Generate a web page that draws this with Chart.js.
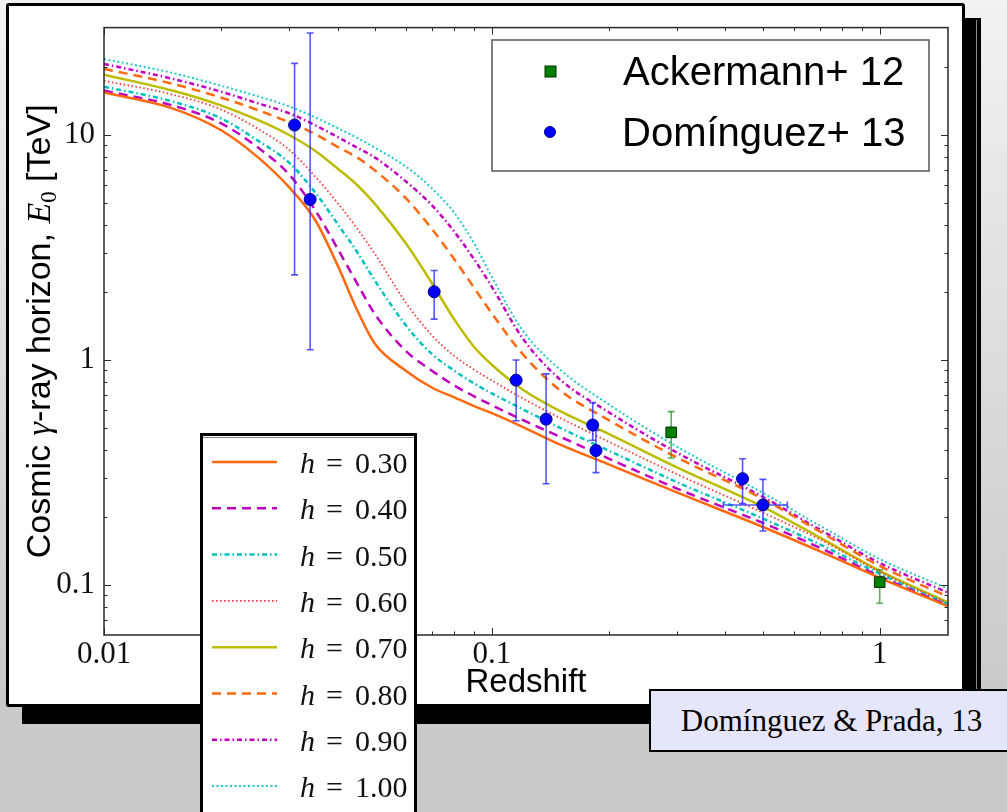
<!DOCTYPE html>
<html>
<head>
<meta charset="utf-8">
<script src="https://cdn.jsdelivr.net/npm/chart.js@4.4.0/dist/chart.umd.min.js"></script>
<style>
  html, body { margin: 0; padding: 0; width: 1007px; height: 812px; overflow: hidden;
    background: linear-gradient(to bottom, #f2f2f2 0%, #dedede 40%, #cacaca 85%); }
  #shadow { position: absolute; left: 22px; top: 18px; width: 959px; height: 706px; background: #000; }
  #shadowLine { position: absolute; left: 976px; top: 20px; width: 1px; height: 702px; background: #8a8a8a; }
  #panel { position: absolute; left: 6px; top: 3px; width: 953px; height: 698px; background: #fff;
    border: 3px solid #000; border-radius: 3px; }
  #wrap { position: absolute; left: 0; top: 0; width: 1007px; height: 812px; z-index: 2; }
  #cite { position: absolute; left: 649px; top: 689px; width: 361px; height: 59px; z-index: 3;
    background: #e6e6fa; border: 2.5px solid #000; display: flex; align-items: center; justify-content: center;
    font: 31px "Liberation Serif", "Times New Roman", serif; color: #000; }
</style>
</head>
<body>
<div id="shadow"></div>
<div id="shadowLine"></div>
<div id="panel"></div>
<div id="wrap"><canvas id="chart"></canvas></div>
<div id="cite">Domínguez &amp; Prada, 13</div>
<script>
// redshift grid the model curves were read at
const redshift = [0.01, 0.015, 0.02, 0.025, 0.03, 0.035, 0.04, 0.045, 0.05, 0.06, 0.07, 0.08, 0.09,
                  0.1, 0.12, 0.15, 0.2, 0.3, 0.5, 0.7, 1.0, 1.5];

// cosmic gamma-ray horizon E0 [TeV] per h
const e_h030 = [15.43, 13.13, 10.52, 7.93, 5.86, 4.20, 2.64, 1.66, 1.178, 0.897, 0.755, 0.683, 0.624, 0.581, 0.505, 0.4207, 0.344, 0.258, 0.1812, 0.1415, 0.1077, 0.0804];
const e_h040 = [15.75, 13.54, 11.29, 8.77, 6.68, 4.65, 3.13, 2.18, 1.594, 1.097, 0.897, 0.771, 0.690, 0.630, 0.5415, 0.456, 0.365, 0.2685, 0.1887, 0.1466, 0.1094, 0.0812];
const e_h050 = [16.40, 14.09, 11.87, 9.41, 7.54, 5.57, 4.03, 3.01, 2.246, 1.427, 1.065, 0.897, 0.786, 0.711, 0.605, 0.4995, 0.396, 0.2868, 0.1974, 0.1518, 0.1122, 0.0820];
const e_h060 = [17.42, 15.12, 13.0, 10.62, 8.60, 6.55, 4.99, 3.83, 2.95, 1.80, 1.289, 1.043, 0.906, 0.811, 0.676, 0.5526, 0.4337, 0.311, 0.2098, 0.1597, 0.1145, 0.0829];
const e_h070 = [18.51, 15.75, 13.54, 11.63, 10.0, 8.51, 7.10, 5.98, 4.93, 3.30, 2.20, 1.515, 1.143, 0.953, 0.740, 0.593, 0.470, 0.3336, 0.2228, 0.163, 0.1156, 0.0837];
const e_h080 = [19.67, 16.90, 14.67, 12.87, 11.40, 10.10, 8.86, 7.93, 6.95, 5.24, 3.83, 2.805, 2.094, 1.61, 1.065, 0.733, 0.5415, 0.369, 0.2415, 0.173, 0.1216, 0.0889];
const e_h090 = [20.68, 17.78, 15.59, 13.81, 12.49, 11.06, 9.80, 8.77, 7.93, 6.22, 4.88, 3.72, 2.805, 2.115, 1.251, 0.819, 0.587, 0.388, 0.2464, 0.1767, 0.1253, 0.0926];
const e_h100 = [21.75, 18.88, 16.56, 14.83, 13.40, 11.99, 10.73, 9.70, 8.77, 7.24, 5.80, 4.51, 3.30, 2.339, 1.356, 0.906, 0.636, 0.4123, 0.2566, 0.1839, 0.1305, 0.0964];

const hLabels = ['0.30', '0.40', '0.50', '0.60', '0.70', '0.80', '0.90', '1.00'];

// Ackermann+ 12
const ackZ  = [0.29, 1.0];
const ackE  = [0.477, 0.103];
const ackLo = [0.367, 0.083];
const ackHi = [0.59, 0.117];

// Domínguez+ 13
const domZ   = [0.031, 0.034, 0.071, 0.1155, 0.138, 0.182, 0.1855, 0.443, 0.5];
const domE   = [11.07, 5.17, 2.01, 0.814, 0.546, 0.514, 0.396, 0.297, 0.227];
const domLo  = [2.39, 1.11, 1.52, 0.537, 0.282, 0.44, 0.316, 0.23, 0.174];
const domHi  = [20.8, 28.4, 2.50, 1.0, 0.868, 0.647, 0.487, 0.364, 0.295];
const domZLo = [null, null, null, null, null, null, null, null, 0.395];
const domZHi = [null, null, null, null, null, null, null, null, 0.578];

const xMajor = [0.01, 0.1, 1];
const xMinor = [0.02, 0.03, 0.04, 0.05, 0.06, 0.07, 0.08, 0.09, 0.2, 0.3, 0.4, 0.5, 0.6, 0.7, 0.8, 0.9];
const yMajor = [0.1, 1, 10];
const yMinor = [0.07, 0.08, 0.09, 0.2, 0.3, 0.4, 0.5, 0.6, 0.7, 0.8, 0.9, 2, 3, 4, 5, 6, 7, 8, 9, 20];

const curves = [e_h030, e_h040, e_h050, e_h060, e_h070, e_h080, e_h090, e_h100];
const styles = [
  { color: '#ff6a10', dash: [],             width: 2.5 },
  { color: '#c000c0', dash: [9, 6],         width: 2.5 },
  { color: '#00c0c0', dash: [5, 3, 1.5, 3], width: 2.5 },
  { color: '#ff3535', dash: [1.5, 2.5],     width: 1.8 },
  { color: '#bcbc00', dash: [],             width: 2.5 },
  { color: '#ff6a10', dash: [9, 6],         width: 2.5 },
  { color: '#c000c0', dash: [5, 3, 1.5, 3], width: 2.5 },
  { color: '#20c8c8', dash: [2, 2.5],       width: 2 }
];

const SERIF = '"Liberation Serif", "Times New Roman", serif';
const SANS = '"Liberation Sans", Arial, sans-serif';

const datasets = curves.map((vals, i) => ({
  label: 'h = ' + hLabels[i],
  data: redshift.map((z, j) => ({ x: z, y: vals[j] })),
  borderColor: styles[i].color,
  borderDash: styles[i].dash,
  borderWidth: styles[i].width,
  pointRadius: 0,
  fill: false,
  cubicInterpolationMode: 'monotone',
  order: 1
}));
datasets.push({
  label: 'Ackermann+ 12',
  data: ackZ.map((z, j) => ({ x: z, y: ackE[j] })),
  showLine: false, pointStyle: 'rect', pointRadius: 7.5,
  backgroundColor: '#008000', borderColor: '#003300', borderWidth: 1, order: 0
});
datasets.push({
  label: 'Domínguez+ 13',
  data: domZ.map((z, j) => ({ x: z, y: domE[j] })),
  showLine: false, pointStyle: 'circle', pointRadius: 6,
  backgroundColor: '#0000ff', borderColor: '#000080', borderWidth: 1, order: 0
});
const DOM = datasets.length - 1;

function seg(ctx, x1, y1, x2, y2) {
  ctx.beginPath(); ctx.moveTo(x1, y1); ctx.lineTo(x2, y2); ctx.stroke();
}

function drawErrorBars(ctx, xs, ys, zs, es, lo, hi, color, zlo, zhi) {
  ctx.save();
  ctx.strokeStyle = color;
  ctx.lineWidth = 1.6;
  zs.forEach((z, i) => {
    const px = xs.getPixelForValue(z);
    const py = ys.getPixelForValue(es[i]);
    const t = ys.getPixelForValue(hi[i]), b = ys.getPixelForValue(lo[i]);
    seg(ctx, px, t, px, b);
    seg(ctx, px - 3.5, t, px + 3.5, t);
    seg(ctx, px - 3.5, b, px + 3.5, b);
    if (zlo && zlo[i] != null) {
      const l = xs.getPixelForValue(zlo[i]), r = xs.getPixelForValue(zhi[i]);
      seg(ctx, l, py, r, py);
      seg(ctx, l, py - 3.5, l, py + 3.5);
      seg(ctx, r, py - 3.5, r, py + 3.5);
    }
  });
  ctx.restore();
}

function drawParts(ctx, parts, x, y) {
  let cx = x;
  parts.forEach(p => {
    ctx.font = p.font;
    ctx.fillText(p.t, cx, y + (p.dy || 0));
    cx += ctx.measureText(p.t).width;
  });
}

function partsWidth(ctx, parts) {
  return parts.reduce((w, p) => { ctx.font = p.font; return w + ctx.measureText(p.t).width; }, 0);
}

const decorPlugin = {
  id: 'decor',
  beforeDatasetDraw(chart, args) {
    if (args.index !== DOM) return;
    const xs = chart.scales.x, ys = chart.scales.y, ctx = chart.ctx;
    const ca = chart.chartArea;
    ctx.save();
    ctx.beginPath();
    ctx.rect(ca.left, ca.top, ca.right - ca.left, ca.bottom - ca.top);
    ctx.clip();
    drawErrorBars(ctx, xs, ys, ackZ, ackE, ackLo, ackHi, 'rgba(40,150,40,0.75)');
    drawErrorBars(ctx, xs, ys, domZ, domE, domLo, domHi, 'rgba(45,45,255,0.8)', domZLo, domZHi);
    ctx.restore();
  },
  afterDraw(chart) {
    const ctx = chart.ctx, ca = chart.chartArea;
    const xs = chart.scales.x, ys = chart.scales.y;
    ctx.save();

    // plot frame with inward ticks on all four sides
    ctx.strokeStyle = '#2a2a2a';
    ctx.lineWidth = 1.5;
    ctx.strokeRect(ca.left, ca.top, ca.right - ca.left, ca.bottom - ca.top);
    ctx.lineWidth = 1;
    const tickX = (vals, len) => vals.forEach(v => {
      const px = Math.round(xs.getPixelForValue(v)) + 0.5;
      seg(ctx, px, ca.bottom, px, ca.bottom - len);
      seg(ctx, px, ca.top, px, ca.top + len);
    });
    const tickY = (vals, len) => vals.forEach(v => {
      const py = Math.round(ys.getPixelForValue(v)) + 0.5;
      seg(ctx, ca.left, py, ca.left + len, py);
      seg(ctx, ca.right, py, ca.right - len, py);
    });
    tickX(xMajor, 7); tickX(xMinor, 3.5);
    tickY(yMajor, 7); tickY(yMinor, 3.5);

    // axis titles
    ctx.fillStyle = '#000';
    ctx.textBaseline = 'alphabetic';
    ctx.textAlign = 'center';
    ctx.font = '33px ' + SANS;
    ctx.fillText('Redshift', (ca.left + ca.right) / 2, 692);

    ctx.textAlign = 'left';
    const yTitle = [
      { t: 'Cosmic ', font: '34px ' + SANS },
      { t: 'γ', font: 'italic 34px ' + SERIF },
      { t: '-ray horizon, ', font: '34px ' + SANS },
      { t: 'E', font: 'italic 34px ' + SERIF },
      { t: '0', font: '23px ' + SERIF, dy: 6 },
      { t: ' [TeV]', font: '34px ' + SANS }
    ];
    ctx.save();
    ctx.translate(50, (ca.top + ca.bottom) / 2);
    ctx.rotate(-Math.PI / 2);
    drawParts(ctx, yTitle, -partsWidth(ctx, yTitle) / 2, 0);
    ctx.restore();

    // data legend, upper right
    ctx.fillStyle = '#fff';
    ctx.fillRect(492, 40, 437, 131);
    ctx.strokeStyle = '#555';
    ctx.lineWidth = 1.5;
    ctx.strokeRect(492, 40, 437, 131);
    ctx.fillStyle = '#008000';
    ctx.strokeStyle = '#003300';
    ctx.lineWidth = 1;
    ctx.fillRect(545, 66, 11, 11);
    ctx.strokeRect(545, 66, 11, 11);
    ctx.fillStyle = '#0000ff';
    ctx.strokeStyle = '#000080';
    ctx.beginPath(); ctx.arc(550, 132, 5.5, 0, Math.PI * 2); ctx.fill(); ctx.stroke();
    ctx.fillStyle = '#000';
    ctx.font = '40px ' + SANS;
    ctx.fillText(datasets[DOM - 1].label, 623, 85);
    ctx.fillText(datasets[DOM].label, 622, 146);

    // model legend (h values), hangs over the frame
    ctx.fillStyle = '#fff';
    ctx.fillRect(200, 433, 217, 385);
    ctx.strokeStyle = '#000';
    ctx.lineWidth = 3;
    ctx.strokeRect(201.5, 434.5, 214, 385);
    ctx.strokeStyle = '#888';
    ctx.lineWidth = 1;
    seg(ctx, 203, 437.5, 414, 437.5);
    hLabels.forEach((lab, i) => {
      const y = 462 + i * 46.3;
      const s = styles[i];
      ctx.strokeStyle = s.color;
      ctx.lineWidth = s.width;
      ctx.setLineDash(s.dash);
      seg(ctx, 212, y, 277, y);
      ctx.setLineDash([]);
      ctx.fillStyle = '#111';
      ctx.font = 'italic 30px ' + SERIF;
      ctx.fillText('h', 300, y + 11);
      ctx.font = '30px ' + SERIF;
      ctx.fillText('=', 326, y + 11);
      ctx.fillText(lab, 355, y + 11);
    });
    ctx.restore();
  }
};

new Chart(document.getElementById('chart'), {
  type: 'line',
  data: { datasets },
  options: {
    responsive: true,
    maintainAspectRatio: false,
    animation: false,
    devicePixelRatio: 1,
    layout: { padding: { top: 19, right: 59, bottom: 117, left: 0 } },
    plugins: { legend: { display: false }, tooltip: { enabled: false } },
    scales: {
      x: {
        type: 'logarithmic', min: 0.01, max: 1.5,
        afterFit: s => { s.height = 60; },
        afterBuildTicks: s => { s.ticks = xMajor.map(v => ({ value: v })); },
        grid: { display: false, drawTicks: false },
        border: { display: false },
        ticks: { autoSkip: false, maxRotation: 0, padding: 1, color: '#111',
                 font: { family: SERIF, size: 31 }, callback: v => String(v) }
      },
      y: {
        type: 'logarithmic', min: 0.06, max: 30,
        afterFit: s => { s.width = 104; },
        afterBuildTicks: s => { s.ticks = yMajor.map(v => ({ value: v })); },
        grid: { display: false, drawTicks: false },
        border: { display: false },
        ticks: { autoSkip: false, padding: 9, color: '#111',
                 font: { family: SERIF, size: 31 }, callback: v => String(v) }
      }
    }
  },
  plugins: [decorPlugin]
});
</script>
</body>
</html>
